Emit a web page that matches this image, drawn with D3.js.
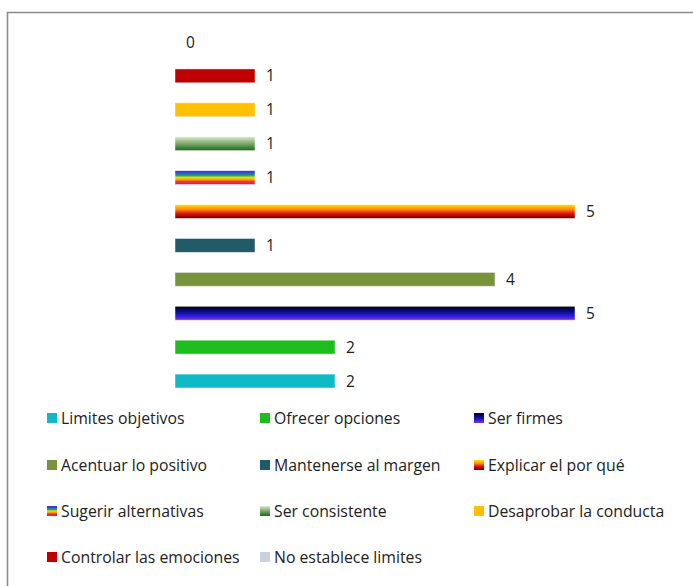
<!DOCTYPE html>
<html>
<head>
<meta charset="utf-8">
<script src="https://cdn.jsdelivr.net/npm/d3@7"></script>
<style>
  html, body { margin: 0; padding: 0; background: #fff; }
  svg { display: block; }
  text { font-family: "Open Sans", "Noto Sans", sans-serif; fill: #222; }
</style>
</head>
<body>
<svg id="chart" width="693" height="586"></svg>
<script>
// Categories, top to bottom as drawn
const categories = [
  "No establece limites",
  "Controlar las emociones",
  "Desaprobar la conducta",
  "Ser consistente",
  "Sugerir alternativas",
  "Explicar el por qué",
  "Mantenerse al margen",
  "Acentuar lo positivo",
  "Ser firmes",
  "Ofrecer opciones",
  "Limites objetivos"
];
const values = [0, 1, 1, 1, 1, 5, 1, 4, 5, 2, 2];

// Legend reading order (row by row, three columns)
const legendOrder = [
  "Limites objetivos", "Ofrecer opciones", "Ser firmes",
  "Acentuar lo positivo", "Mantenerse al margen", "Explicar el por qué",
  "Sugerir alternativas", "Ser consistente", "Desaprobar la conducta",
  "Controlar las emociones", "No establece limites"
];

// Fill per category: plain colours or vertical gradient stops
const fills = {
  "Limites objetivos": "#10b9c6",
  "Ofrecer opciones": "#1cbd1c",
  "Ser firmes": [["0", "#000010"], ["0.35", "#0a0a80"], ["0.7", "#2a1ee0"], ["1", "#8a2ee0"]],
  "Acentuar lo positivo": "#77933c",
  "Mantenerse al margen": "#225a68",
  "Explicar el por qué": [["0", "#ffe400"], ["0.35", "#ff8a00"], ["0.65", "#e01000"], ["1", "#6a0000"]],
  "Sugerir alternativas": [["0", "#4a22d8"], ["0.2", "#2060e0"], ["0.35", "#20b040"], ["0.5", "#e8e020"], ["0.65", "#ff9a00"], ["0.8", "#f03020"], ["1", "#c020a0"]],
  "Ser consistente": [["0", "#dde8d0"], ["0.5", "#7aa868"], ["1", "#1a6a1a"]],
  "Desaprobar la conducta": "#ffc000",
  "Controlar las emociones": "#c00000",
  "No establece limites": "#c8d2e2"
};

const svg = d3.select("#chart");
const defs = svg.append("defs");

function fillFor(name, idx) {
  const f = fills[name];
  if (typeof f === "string") return f;
  const id = "grad" + idx;
  const g = defs.append("linearGradient")
    .attr("id", id).attr("x1", 0).attr("y1", 0).attr("x2", 0).attr("y2", 1);
  f.forEach(([o, c]) => g.append("stop").attr("offset", o).attr("stop-color", c));
  return "url(#" + id + ")";
}
const fillMap = {};
categories.forEach((c, i) => { fillMap[c] = fillFor(c, i); });

// Frame
svg.append("path")
  .attr("d", "M7.5,586 L7.5,12.5 L693,12.5")
  .attr("fill", "none")
  .attr("stroke", "#8c8c8c")
  .attr("stroke-width", 1.6);

// Scales
const x = d3.scaleLinear().domain([0, 5]).range([175, 575]);
const y = d3.scaleBand().domain(categories).range([25, 398]).paddingInner(0.59).paddingOuter(0.295);

// Bars
svg.append("g").selectAll("rect")
  .data(categories)
  .join("rect")
  .attr("x", x(0))
  .attr("y", d => y(d))
  .attr("width", (d, i) => x(values[i]) - x(0))
  .attr("height", y.bandwidth())
  .attr("fill", d => fillMap[d])
  .attr("stroke", (d, i) => values[i] > 0 ? "rgba(255,255,255,0.6)" : "none")
  .attr("stroke-width", 0.8);

// Value labels
svg.append("g").selectAll("text")
  .data(categories)
  .join("text")
  .attr("x", (d, i) => x(values[i]) + 11)
  .attr("y", d => y(d) + y.bandwidth() / 2)
  .attr("dy", "0.36em")
  .attr("font-size", 15.5)
  .text((d, i) => values[i]);

// Legend
const colX = [47, 260, 474];
const rowY = [418, 465, 511, 557];
const leg = svg.append("g").selectAll("g")
  .data(legendOrder)
  .join("g")
  .attr("transform", (d, i) => `translate(${colX[i % 3]},${rowY[Math.floor(i / 3)]})`);
leg.append("rect")
  .attr("x", 0).attr("y", -5).attr("width", 10).attr("height", 10)
  .attr("fill", d => fillMap[d]);
leg.append("text")
  .attr("x", 14)
  .attr("dy", "0.36em")
  .attr("font-size", 15.8)
  .text(d => d);
</script>
</body>
</html>
